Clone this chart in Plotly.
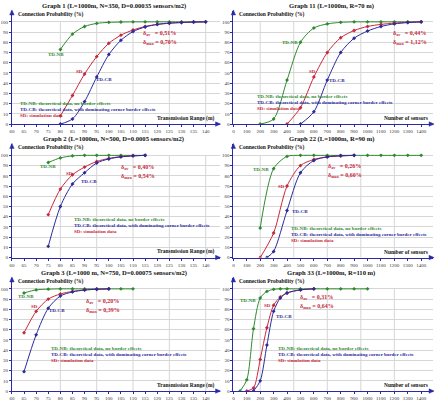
import plotly.graph_objects as go

# ---------------- data ----------------
titles = [
    "Graph 1 (L=1000m, N=350, D=0.00035 sensors/m2)",
    "Graph 11 (L=1000m, R=70 m)",
    "Graph 2 (L=1000m, N=500, D=0.0005 sensors/m2)",
    "Graph 22 (L=1000m, R=90 m)",
    "Graph 3 (L=1000 m, N=750, D=0.00075 sensors/m2)",
    "Graph 33 (L=1000m, R=110 m)",
]
delta_av = ["0,51%", "0,44%", "0,40%", "0,26%", "0,20%", "0,31%"]
delta_max = ["0,70%", "1,12%", "0,54%", "0,60%", "0,39%", "0,64%"]

# Graph 1
g1_x = [80, 85, 90, 95, 100, 105, 110, 115, 120, 125, 130, 135, 140]
g1_nb = [73, 88, 95.5, 98.5, 99.5, 99.8, 100, 100, 100, 100, 100, 100, 100]
g1_sd = [8, 28, 49, 66, 79, 87, 92, 95.5, 97.5, 98.6, 99.3, 99.7, 100]
g1_cb = [0, 5, 22, 46, 68, 82, 90.5, 95, 97.5, 98.8, 99.4, 99.8, 100]

# Graph 11
g11_nb_x = [200, 300, 400, 500, 600, 700, 800, 900, 1000, 1100, 1200, 1300, 1400]
g11_nb = [0, 5, 43, 80, 94, 98, 99.5, 100, 100, 100, 100, 100, 100]
g11_sd_x = [400, 500, 600, 700, 800, 900, 1000, 1100, 1200, 1300, 1400]
g11_sd = [0, 16, 46, 70, 84.5, 91.5, 95.5, 97.5, 98.8, 99.5, 100]
g11_cb_x = [500, 600, 700, 800, 900, 1000, 1100, 1200, 1300, 1400]
g11_cb = [0, 12, 43, 70, 84, 91, 95.5, 98, 99.3, 100]

# Graph 2
g2_x = [75, 80, 85, 90, 95, 100, 105, 110, 115]
g2_nb = [93, 97.5, 99.5, 100, 100, 100, 100, 100, 100]
g2_sd = [42, 67, 81, 88.5, 94, 97, 98.8, 99.5, 100]
g2_cb = [11, 50, 72, 83, 92.5, 96.5, 98.5, 99.5, 100]

# Graph 22
g22_nb_x = [200, 300, 400, 500, 600, 700, 800, 900, 1000, 1100, 1200, 1300, 1400]
g22_nb = [29, 87, 99, 100, 100, 100, 100, 100, 100, 100, 100, 100, 100]
g22_sd_x = [200, 300, 400, 500, 600, 700, 800, 900]
g22_sd = [0, 24, 70, 90, 96, 98.5, 99.5, 100]
g22_cb_x = [250, 300, 400, 500, 600, 700, 800, 900]
g22_cb = [0, 6, 46, 83, 95, 98.5, 99.5, 100]

# Graph 3
g3_nb_x = [65, 70, 75, 80, 85, 90, 95, 100, 105, 110]
g3_nb = [96, 99, 99.7, 100, 100, 100, 100, 100, 100, 100]
g3_x = [65, 70, 75, 80, 85, 90, 95, 100]
g3_sd = [57, 78, 90, 95, 97.5, 99, 99.6, 100]
g3_cb = [19, 55, 81, 93, 97, 98.8, 99.6, 100]

# Graph 33
g33_nb_x = [50, 100, 150, 200, 250, 300, 350, 400, 500, 600, 700, 800, 900, 1000]
g33_nb = [0, 11, 61, 91, 97.5, 99.5, 100, 100, 100, 100, 100, 100, 100, 100]
g33_sd_x = [100, 150, 200, 250, 300, 350, 400, 500, 600]
g33_sd = [0, 3, 31, 62, 84, 92, 96, 99, 100]
g33_cb_x = [150, 200, 250, 300, 350, 400, 500, 600]
g33_cb = [0, 10, 45, 78, 91, 96, 99, 100]

range_ticks = list(range(60, 141, 5))
sensor_ticks = list(range(0, 1401, 100))
prob_ticks = list(range(0, 101, 10))

panels = [
    dict(nb=(g1_x, g1_nb), sd=(g1_x, g1_sd), cb=(g1_x, g1_cb)),
    dict(nb=(g11_nb_x, g11_nb), sd=(g11_sd_x, g11_sd), cb=(g11_cb_x, g11_cb)),
    dict(nb=(g2_x, g2_nb), sd=(g2_x, g2_sd), cb=(g2_x, g2_cb)),
    dict(nb=(g22_nb_x, g22_nb), sd=(g22_sd_x, g22_sd), cb=(g22_cb_x, g22_cb)),
    dict(nb=(g3_nb_x, g3_nb), sd=(g3_x, g3_sd), cb=(g3_x, g3_cb)),
    dict(nb=(g33_nb_x, g33_nb), sd=(g33_sd_x, g33_sd), cb=(g33_cb_x, g33_cb)),
]

# curve label pixel positions (per panel): nb, sd, cb
curve_labels = [
    [(52, 55), (75, 72), (100, 80)],
    [(288, 43), (311, 72), (336, 81)],
    [(43, 168), (65, 175), (85, 183)],
    [(259, 171), (280, 188), (298, 213)],
    [(21, 299), (30, 309), (53, 313)],
    [(246, 303), (266, 308), (282, 319)],
]
legend_pos = [(13, 104), (253, 97), (68, 221), (287, 230), (45, 351), (274, 351)]
delta_pos = [(138, 34), (390, 34), (115, 169), (325, 168), (80, 304), (296, 300)]

# ---------------- styling ----------------
W, H = 440, 404
GREEN = "#2f8a2f"
RED = "#c8283c"
BLUE = "#2b2b9e"
AXIS = "#2a2aa8"
GRID = "#d6d6d6"
FONT = "Liberation Serif"


def px(x):
    return x / W


def py(y):
    return 1 - y / H


def label(x, y, text, size, color, xanchor="center"):
    return dict(xref="paper", yref="paper", x=px(x), y=py(y), xanchor=xanchor,
                yanchor="middle", text=text, showarrow=False,
                font=dict(family=FONT, size=size, color=color))


fig = go.Figure()
annotations = []
shapes = []

for i in range(6):
    row, col = divmod(i, 2)
    n = i + 1
    xa = "xaxis" if n == 1 else f"xaxis{n}"
    ya = "yaxis" if n == 1 else f"yaxis{n}"
    xr = "x" if n == 1 else f"x{n}"
    yr = "y" if n == 1 else f"y{n}"
    y0 = 125 + 134.5 * row  # pixel of value 0
    ytop = y0 - 114
    if col == 0:
        xl, xrgt = 7, 217
        xrange = [60, 60 + (xrgt - xl) / 2.45]
        ticks = range_ticks
        xtitle = "Transmission Range (m)"
        vgrid = [80, 95, 110, 125, 140]
    else:
        xl, xrgt = 231, 433
        xrange = [0, (xrgt - xl) / 0.1357]
        ticks = sensor_ticks
        xtitle = "Number of sensors"
        vgrid = [200, 450, 700, 950, 1200]

    fig.layout[xa] = dict(
        domain=[px(xl), px(xrgt)], range=xrange, anchor=yr,
        tickvals=ticks, ticktext=[str(t) for t in ticks],
        tickfont=dict(family=FONT, size=5, color="#333"),
        ticks="outside", ticklen=2, tickcolor=AXIS, tickwidth=1,
        showgrid=False, zeroline=False,
        showline=True, linecolor=AXIS, linewidth=1,
    )
    fig.layout[ya] = dict(
        domain=[py(y0), py(ytop)], range=[0, 110.7], anchor=xr,
        tickvals=prob_ticks, ticktext=[str(t) for t in prob_ticks],
        tickfont=dict(family=FONT, size=5, color="#333"),
        ticks="outside", ticklen=2, tickcolor=AXIS, tickwidth=1,
        showgrid=True, gridcolor=GRID, gridwidth=1,
        zeroline=False, showline=True, linecolor=AXIS, linewidth=1,
    )
    for v in vgrid:
        shapes.append(dict(type="line", xref=xr, yref=f"{yr} domain", x0=v, x1=v,
                           y0=0, y1=103 / 114, line=dict(color=GRID, width=1), layer="below"))

    # arrowheads at the axis ends
    shapes.append(dict(type="path", xref=f"{xr} domain", yref=f"{yr} domain",
                       xsizemode="pixel", ysizemode="pixel", xanchor=1, yanchor=0,
                       path="M -4 -2.2 L 1 0 L -4 2.2 Z",
                       fillcolor=AXIS, line=dict(color=AXIS, width=0.5)))
    shapes.append(dict(type="path", xref=f"{xr} domain", yref=f"{yr} domain",
                       xsizemode="pixel", ysizemode="pixel", xanchor=0, yanchor=1,
                       path="M -2.2 -4 L 0 1 L 2.2 -4 Z",
                       fillcolor=AXIS, line=dict(color=AXIS, width=0.5)))

    p = panels[i]
    for key, color, name in (("nb", GREEN, "TD-NB"), ("sd", RED, "SD"), ("cb", BLUE, "TD-CB")):
        xs, ys = p[key]
        fig.add_trace(go.Scatter(
            x=xs, y=ys, xaxis=xr, yaxis=yr, mode="lines+markers", name=name,
            line=dict(color=color, width=1, shape="spline", smoothing=0.8),
            marker=dict(symbol="diamond", size=3, color=color), showlegend=False,
        ))

    # title
    annotations.append(label(110 + 220 * col, 6 + 134.5 * row, f"<b>{titles[i]}</b>", 6.6, "#111"))
    # y title
    annotations.append(label(xl + 4, ytop + 3.5, "<b>Connection Probability (%)</b>", 5.5, "#111", "left"))
    # x title
    annotations.append(label(xrgt - 3, y0 - 6, f"<b>{xtitle}</b>", 5.5, "#111", "right"))
    # curve labels
    for (lx, ly), color, name in zip(curve_labels[i], (GREEN, RED, BLUE), ("TD-NB", "SD", "TD-CB")):
        annotations.append(label(lx, ly, f"<b>{name}</b>", 5, color))
    # legend texts
    lx, ly = legend_pos[i]
    leg = [("TD-NB: theoretical data, no border effects", GREEN),
           ("TD-CB: theoretical data, with dominating corner border effects", BLUE),
           ("SD: simulation data", RED)]
    for k, (t, c) in enumerate(leg):
        annotations.append(label(lx, ly + 6.3 * k, f"<b>{t}</b>", 5, c, "left"))
    # deltas
    dx, dy = delta_pos[i]
    annotations.append(label(dx, dy, f"<b>δ<sub>av</sub>   = {delta_av[i]}</b>", 6, RED, "left"))
    annotations.append(label(dx, dy + 9, f"<b>δ<sub>max</sub> = {delta_max[i]}</b>", 6, RED, "left"))

fig.update_layout(
    width=W, height=H, margin=dict(l=0, r=0, t=0, b=0),
    paper_bgcolor="white", plot_bgcolor="white",
    annotations=annotations, shapes=shapes, showlegend=False,
)

fig.write_html("out.html")
